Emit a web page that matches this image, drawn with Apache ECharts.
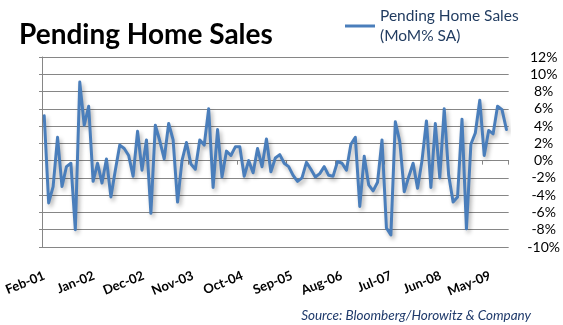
<!DOCTYPE html>
<html><head><meta charset="utf-8">
<script src="https://cdn.jsdelivr.net/npm/echarts@6/dist/echarts.min.js"></script>
<style>html,body{margin:0;padding:0;background:#fff}#c{width:563px;height:325px}</style>
</head><body><div id="c"></div>
<script>
const categories = [
  'Feb-01','Mar-01','Apr-01','May-01','Jun-01','Jul-01','Aug-01','Sep-01','Oct-01','Nov-01','Dec-01',
  'Jan-02','Feb-02','Mar-02','Apr-02','May-02','Jun-02','Jul-02','Aug-02','Sep-02','Oct-02','Nov-02','Dec-02',
  'Jan-03','Feb-03','Mar-03','Apr-03','May-03','Jun-03','Jul-03','Aug-03','Sep-03','Oct-03','Nov-03','Dec-03',
  'Jan-04','Feb-04','Mar-04','Apr-04','May-04','Jun-04','Jul-04','Aug-04','Sep-04','Oct-04','Nov-04','Dec-04',
  'Jan-05','Feb-05','Mar-05','Apr-05','May-05','Jun-05','Jul-05','Aug-05','Sep-05','Oct-05','Nov-05','Dec-05',
  'Jan-06','Feb-06','Mar-06','Apr-06','May-06','Jun-06','Jul-06','Aug-06','Sep-06','Oct-06','Nov-06','Dec-06',
  'Jan-07','Feb-07','Mar-07','Apr-07','May-07','Jun-07','Jul-07','Aug-07','Sep-07','Oct-07','Nov-07','Dec-07',
  'Jan-08','Feb-08','Mar-08','Apr-08','May-08','Jun-08','Jul-08','Aug-08','Sep-08','Oct-08','Nov-08','Dec-08',
  'Jan-09','Feb-09','Mar-09','Apr-09','May-09','Jun-09','Jul-09','Aug-09','Sep-09','Oct-09'
];
const pendingHomeSales = [
  5.2, -4.9, -3.0, 2.7, -3.0, -0.7, -0.3, -8.0, 9.1, 4.1, 6.3,
  -2.4, -0.3, -2.6, 0.2, -4.2, -1.1, 1.8, 1.4, 0.6, -1.8, 3.4, -1.1,
  2.4, -6.1, 4.1, 2.3, 0.2, 4.3, 2.4, -4.8, 0.0, 2.1, -0.4, -1.0,
  2.4, 1.8, 6.0, -3.1, 3.6, -1.9, 1.1, 0.6, 1.6, 1.6, -1.8, 0.0,
  -1.4, 1.4, -0.7, 2.5, -1.3, 0.3, 0.7, -0.3, -0.7, -1.7, -2.4, -2.0,
  -0.2, -1.0, -1.9, -1.5, -0.7, -1.7, -1.8, -0.1, -0.3, -1.1, 1.9, 2.7,
  -5.3, 0.5, -2.8, -3.5, -2.5, 2.4, -7.8, -8.6, 4.5, 2.2, -3.6, -1.9,
  -0.3, -3.2, 0.0, 4.6, -3.1, 4.3, -2.0, 6.0, -1.7, -4.8, -4.2, 4.8,
  -7.9, 1.9, 3.2, 7.0, 0.6, 3.5, 3.1, 6.3, 5.9, 3.6
];
const seriesName = 'Pending Home Sales\n(MoM% SA)';
const titleText = 'Pending Home Sales';
const sourceText = 'Source: Bloomberg/Horowitz & Company';
const yMin = -10, yMax = 12, yStep = 2;

const grey = '#868686';
const blue = '#4A7EBB';
const chart = echarts.init(document.getElementById('c'), null, {renderer:'canvas'});
chart.setOption({
  animation: false,
  backgroundColor: '#fff',
  title: [
    {text: titleText, left: 14, top: 16,
     textStyle: {fontFamily: 'Lato', fontWeight: 'bold', fontSize: 28, color: '#000'}},
    {text: sourceText, right: 27, top: 304,
     textStyle: {fontFamily: 'Lato', fontStyle: 'italic', fontWeight: 'normal', fontSize: 13.5, color: '#1F3A6B'}}
  ],
  legend: {
    left: 345, top: -4, padding: 0,
    icon: 'path://M0,0H30V3H0Z',
    itemWidth: 30, itemHeight: 3,
    data: [seriesName],
    itemStyle: {color: blue, borderWidth: 0},
    textStyle: {fontFamily: 'Lato', fontSize: 15.5, lineHeight: 20, color: '#1F3A5F', padding: [20, 0, 0, 0]}
  },
  grid: [
    {left: 42, right: 48, top: 57, height: 190},
    {left: 42, right: 48, top: 57, height: 210}
  ],
  xAxis: [
    {type: 'category', gridIndex: 0, data: categories, boundaryGap: true,
     axisLine: {onZero: true, lineStyle: {color: grey, width: 1}},
     axisTick: {show: true, interval: 10, length: 4, lineStyle: {color: grey}},
     axisLabel: {show: false}, splitLine: {show: false}},
    {type: 'category', gridIndex: 1, data: categories, boundaryGap: true,
     axisLine: {show: false}, axisTick: {show: false},
     axisLabel: {interval: 10, rotate: 22, fontFamily: 'Lato', fontWeight: 'bold', fontSize: 13, color: '#000', margin: 8}}
  ],
  yAxis: [
    {type: 'value', gridIndex: 0, position: 'right', min: yMin, max: yMax, interval: yStep,
     axisLine: {show: false}, axisTick: {show: false},
     axisLabel: {formatter: '{value}%', align: 'center', margin: 35, fontFamily: 'Lato', fontSize: 14, color: '#000'},
     splitLine: {lineStyle: {color: grey, width: 1}}},
    {type: 'value', gridIndex: 0, position: 'left', min: yMin, max: yMax, interval: yStep,
     axisLine: {show: true, lineStyle: {color: grey}},
     axisTick: {show: true, length: 3, lineStyle: {color: grey}},
     axisLabel: {show: false}, splitLine: {show: false}},
    {type: 'value', gridIndex: 1, show: false}
  ],
  series: [{
    name: seriesName, type: 'line', xAxisIndex: 0, yAxisIndex: 0,
    data: pendingHomeSales, symbol: 'none',
    lineStyle: {color: blue, width: 3, join: 'round', cap: 'round',
      shadowColor: 'rgba(0,0,0,0.3)', shadowBlur: 4, shadowOffsetX: 2, shadowOffsetY: 3},
    itemStyle: {color: blue}
  }]
});
</script></body></html>
